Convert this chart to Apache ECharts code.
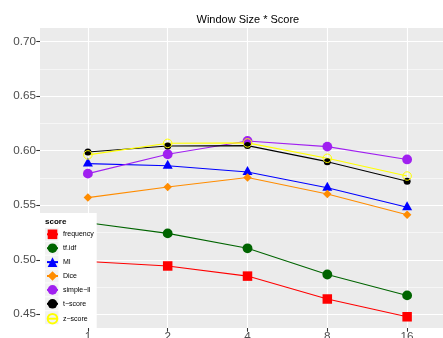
<!DOCTYPE html>
<html>
<head>
<meta charset="utf-8">
<script src="https://cdn.jsdelivr.net/npm/echarts@6/dist/echarts.min.js"></script>
<style>
  html, body { margin: 0; padding: 0; background: #fff; }
  #chart { width: 443px; height: 338px; }
</style>
</head>
<body>
<div id="chart"></div>
<script>
// Window sizes on the x axis (treated as discrete categories)
const windowSizes = ['1', '2', '4', '8', '16'];

// Score names, in legend order
const scoreNames = ['frequency', 'tf.idf', 'MI', 'Dice', 'simple\u2212ll', 't\u2212score', 'z\u2212score'];

// Score values per window size
const frequencyValues = [0.4984, 0.4943, 0.4850, 0.4640, 0.4477];
const tfidfValues     = [0.5339, 0.5242, 0.5105, 0.4865, 0.4673];
const miValues        = [0.5882, 0.5862, 0.5805, 0.5660, 0.5482];
const diceValues      = [0.5570, 0.5668, 0.5755, 0.5604, 0.5413];
const simpleLlValues  = [0.5790, 0.5968, 0.6090, 0.6038, 0.5920];
const tScoreValues    = [0.5988, 0.6044, 0.6047, 0.5900, 0.5721];
const zScoreValues    = [0.5962, 0.6068, 0.6072, 0.5931, 0.5768];

// Y range of the plotting panel and the range used for the tick/grid axis
const panelYMin = 0.4374, panelYMax = 0.7126;
const tickYMin = 0.40, tickYMax = 0.75, tickStep = 0.05;

const FONT = "'Liberation Sans', Arial, Helvetica, sans-serif";

// panel box in pixels
const panel = { left: 40, top: 28, right: 455, bottom: 328 };
const W = 443, H = 338;
// pixel per unit on the y scale
const pxPerUnit = (panel.bottom - panel.top) / (panelYMax - panelYMin);
// first / last category centres (discrete scale expanded by 0.6 of a step)
const catStep = (panel.right - panel.left) / (windowSizes.length - 1 + 1.2);
const firstCatX = panel.left + 0.6 * catStep;
const lastCatX = firstCatX + (windowSizes.length - 1) * catStep;

// grid carrying the tick labels + horizontal grid lines
const tickGridTop = panel.top - (tickYMax - panelYMax) * pxPerUnit;
const tickGridBottomPx = panel.bottom + (panelYMin - tickYMin) * pxPerUnit;

const styles = [
  { color: '#FF0000', symbol: 'rect', size: 9.5 },
  { color: '#006400', symbol: 'circle', size: 9.8 },
  { color: '#0000FF', symbol: 'triangle', size: [10, 9], offset: [0, -1.5] },
  { color: '#FF8C00', symbol: 'diamond', size: 8.5 },
  { color: '#A020F0', symbol: 'circle', size: 9.8 },
  { color: '#000000', symbol: 'circle', size: 7 },
  { color: '#FFFF00', symbol: 'circle', size: 8.5, hollow: true }
];
const valueLists = [frequencyValues, tfidfValues, miValues, diceValues, simpleLlValues, tScoreValues, zScoreValues];

const series = scoreNames.map((name, i) => {
  const st = styles[i];
  return {
    name: name,
    type: 'line',
    xAxisIndex: 2,
    yAxisIndex: 2,
    data: valueLists[i],
    symbol: st.symbol,
    symbolSize: st.size,
    symbolOffset: st.offset || [0, 0],
    showAllSymbol: true,
    lineStyle: { color: st.color, width: 1.07 },
    itemStyle: st.hollow
      ? { color: 'transparent', borderColor: st.color, borderWidth: 1 }
      : { color: st.color, borderWidth: 0 },
    emphasis: { disabled: true },
    z: 2
  };
});

// legend layout
const legendBox = { left: 40, top: 213, width: 56.7, height: 115 };
const legendFirstCentre = 234.3, legendPitch = 13.9;
const legendItemH = 12, legendIconBox = legendItemH * 0.8;

const keyRects = scoreNames.map((n, i) => ({
  type: 'rect',
  z: 3,
  z2: 1,
  silent: true,
  shape: { x: 45, y: legendFirstCentre + i * legendPitch - 6.5, width: 13.5, height: 13 },
  style: { fill: '#F2F2F2' }
}));

const chart = echarts.init(document.getElementById('chart'), null, { renderer: 'canvas' });
chart.setOption({
  animation: false,
  backgroundColor: '#fff',
  title: [
    {
      text: 'Window Size * Score',
      left: 196.5, top: 14, padding: 0,
      textStyle: { fontFamily: FONT, fontSize: 11, fontWeight: 'normal', color: '#000' }
    },
    {
      text: 'score',
      left: 45, top: 217.5, padding: 0,
      textStyle: { fontFamily: FONT, fontSize: 8, fontWeight: 'bold', color: '#000' }
    }
  ],
  grid: [
    { // panel background
      left: panel.left, right: W - panel.right, top: panel.top, bottom: H - panel.bottom,
      show: true, backgroundColor: '#EBEBEB', borderWidth: 0,
      containLabel: false, outerBoundsMode: 'none'
    },
    { // y ticks, labels and horizontal grid lines
      left: panel.left, right: W - panel.right, top: tickGridTop, bottom: H - tickGridBottomPx,
      show: false, containLabel: false, outerBoundsMode: 'none'
    },
    { // data area spanning first to last category
      left: firstCatX, right: W - lastCatX, top: panel.top, bottom: H - panel.bottom,
      show: false, containLabel: false, outerBoundsMode: 'none'
    }
  ],
  xAxis: [
    { gridIndex: 0, type: 'value', min: 0, max: 1, show: false },
    { gridIndex: 1, type: 'value', min: 0, max: 1, show: false },
    {
      gridIndex: 2, type: 'category', data: windowSizes, boundaryGap: false,
      axisLine: { show: false },
      axisTick: { show: true, length: 3.7, interval: 0, lineStyle: { color: '#333', width: 1.07 } },
      axisLabel: { interval: 0, margin: 3, color: '#4D4D4D', fontSize: 11.7, fontFamily: FONT },
      splitLine: { show: true, interval: 0, lineStyle: { color: '#FFFFFF', width: 1.1 } }
    }
  ],
  yAxis: [
    { gridIndex: 0, type: 'value', min: 0, max: 1, show: false },
    {
      gridIndex: 1, type: 'value', min: tickYMin, max: tickYMax, interval: tickStep,
      axisLine: { show: false },
      axisTick: { show: true, length: 3.7, lineStyle: { color: '#333', width: 1.07 } },
      axisLabel: {
        margin: 4, color: '#4D4D4D', fontSize: 11.7, fontFamily: FONT,
        formatter: v => v.toFixed(2)
      },
      splitLine: { show: true, lineStyle: { color: '#FFFFFF', width: 1.1 } },
      minorTick: { show: false, splitNumber: 2 },
      minorSplitLine: { show: true, lineStyle: { color: '#FFFFFF', width: 0.55 } }
    },
    { gridIndex: 2, type: 'value', min: panelYMin, max: panelYMax, show: false }
  ],
  legend: {
    orient: 'vertical',
    left: legendBox.left, top: legendBox.top,
    padding: [legendFirstCentre - legendIconBox / 2 - legendBox.top, 4, 6, 6],
    itemWidth: 11, itemHeight: legendItemH, itemGap: legendPitch - legendIconBox,
    selectedMode: false,
    textStyle: { fontFamily: FONT, fontSize: 7, color: '#000' },
    data: scoreNames,
    z: 4
  },
  graphic: [
    {
      type: 'rect', z: 3, z2: 0, silent: true,
      shape: { x: legendBox.left, y: legendBox.top, width: legendBox.width, height: legendBox.height },
      style: { fill: '#FFFFFF' }
    }
  ].concat(keyRects),
  series: series
});
</script>
</body>
</html>
